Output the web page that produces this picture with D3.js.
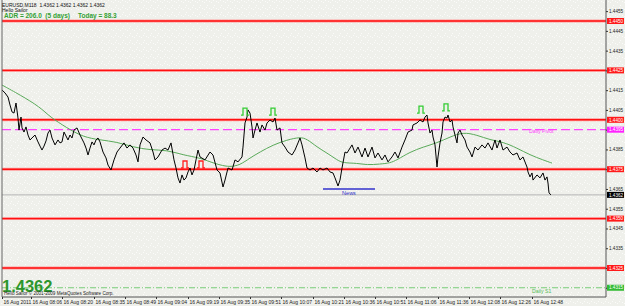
<!DOCTYPE html>
<html>
<head>
<meta charset="utf-8">
<script src="https://cdn.jsdelivr.net/npm/d3@7"></script>
<style>
body { margin: 0; background: #eff0eb; }
svg { display: block; font-family: "Liberation Sans", Arial, sans-serif; }
</style>
</head>
<body>
<div id="main"></div>
<script>
const headerLine = 'EURUSD,M118  1.4362 1.4362 1.4362 1.4362';
const commentLine = 'Hello Sailor';
const adrText = 'ADR = 206.0  (5 days)';
const todayText = 'Today = 88.3';
const lastPrice = 1.4362;
const copyright = 'Hello Sailor \u00a9 2001-2009 MetaQuotes Software Corp.';

// [bar, close]
const closeSeries = [
    [0,1.44151],[3,1.44136],[6,1.44115],[8,1.44075],[10,1.44040],[12,1.44034],[14,1.44085],[16,1.44009],
    [17,1.43948],[19,1.44014],[20,1.43959],[22,1.43938],[24,1.43964],[26,1.43923],[28,1.43898],[30,1.43908],
    [33,1.43923],[36,1.43888],[38,1.43867],[40,1.43847],[42,1.43867],[44,1.43893],[46,1.43933],[48,1.43948],
    [50,1.43908],[53,1.43873],[56,1.43898],[58,1.43883],[60,1.43888],[62,1.43938],[64,1.43918],[66,1.43898],
    [68,1.43923],[70,1.43908],[72,1.43948],[75,1.43959],[78,1.43923],[82,1.43883],[84,1.43857],[86,1.43822],
    [88,1.43857],[90,1.43888],[92,1.43873],[94,1.43898],[96,1.43908],[98,1.43888],[101,1.43837],[104,1.43807],
    [106,1.43771],[109,1.43746],[112,1.43797],[115,1.43837],[118,1.43857],[122,1.43883],[125,1.43857],[128,1.43873],
    [131,1.43857],[134,1.43822],[136,1.43787],[138,1.43873],[141,1.43913],[144,1.43898],[148,1.43883],[151,1.43837],
    [153,1.43797],[156,1.43812],[160,1.43847],[163,1.43857],[166,1.43847],[169,1.43883],[172,1.43797],[174,1.43756],
    [176,1.43706],[178,1.43680],[180,1.43721],[182,1.43695],[184,1.43706],[186,1.43736],[188,1.43756],[190,1.43721],
    [192,1.43746],[194,1.43797],[196,1.43847],[198,1.43812],[203,1.43797],[208,1.43837],[211,1.43822],[215,1.43746],
    [218,1.43731],[221,1.43660],[223,1.43695],[226,1.43756],[230,1.43746],[233,1.43797],[236,1.43787],[240,1.43812],
    [241,1.43862],[243,1.43984],[245,1.44014],[246,1.44050],[248,1.44034],[250,1.43964],[251,1.43908],[253,1.43948],
    [255,1.43984],[258,1.43938],[260,1.43974],[263,1.43948],[265,1.43984],[268,1.43999],[271,1.43989],[273,1.44009],
    [275,1.43948],[278,1.43959],[280,1.43883],[283,1.43862],[286,1.43837],[290,1.43822],[293,1.43847],[296,1.43883],
    [298,1.43908],[300,1.43873],[303,1.43807],[305,1.43756],[308,1.43746],[311,1.43756],[315,1.43736],[318,1.43756],
    [321,1.43746],[325,1.43756],[328,1.43736],[331,1.43731],[333,1.43706],[336,1.43665],[338,1.43695],[340,1.43756],
    [343,1.43837],[345,1.43832],[350,1.43873],[353,1.43832],[356,1.43862],[360,1.43812],[363,1.43857],[366,1.43812],
    [370,1.43862],[373,1.43807],[376,1.43832],[380,1.43797],[383,1.43822],[386,1.43787],[390,1.43812],[393,1.43837],
    [396,1.43807],[400,1.43862],[403,1.43898],[406,1.43938],[410,1.43948],[411,1.43974],[415,1.43984],[418,1.43999],
    [421,1.43989],[423,1.44014],[425,1.44024],[426,1.43984],[428,1.43933],[430,1.43948],[431,1.43913],[433,1.43873],
    [435,1.43761],[436,1.43812],[438,1.43883],[440,1.43933],[441,1.43989],[443,1.44014],[445,1.44009],[446,1.44024],
    [448,1.43989],[450,1.43999],[451,1.43964],[453,1.43923],[455,1.43883],[456,1.43933],[458,1.43948],[460,1.43923],
    [463,1.43898],[465,1.43862],[468,1.43837],[470,1.43812],[473,1.43862],[476,1.43847],[480,1.43873],[483,1.43857],
    [486,1.43883],[490,1.43847],[493,1.43898],[495,1.43857],[498,1.43898],[501,1.43847],[505,1.43862],[508,1.43837],
    [511,1.43822],[515,1.43832],[518,1.43797],[521,1.43812],[525,1.43761],[526,1.43736],[528,1.43711],[530,1.43731],
    [531,1.43695],[535,1.43721],[538,1.43706],[541,1.43731],[543,1.43695],[545,1.43711],[546,1.43680],[547,1.43630],
    [549,1.43620]
];

// moving average [bar, value]
const maSeries = [
    [0,1.44176],[18,1.44126],[38,1.44065],[48,1.44014],[65,1.43959],[81,1.43913],[98,1.43898],[115,1.43888],
    [131,1.43862],[148,1.43847],[165,1.43847],[181,1.43822],[198,1.43807],[208,1.43787],[218,1.43771],[228,1.43761],
    [238,1.43771],[248,1.43807],[258,1.43837],[271,1.43873],[285,1.43898],[298,1.43913],[305,1.43903],[315,1.43862],
    [325,1.43832],[335,1.43797],[341,1.43781],[355,1.43781],[365,1.43771],[378,1.43776],[388,1.43781],[395,1.43797],
    [408,1.43837],[421,1.43862],[435,1.43883],[448,1.43913],[461,1.43938],[475,1.43923],[488,1.43898],[501,1.43888],
    [515,1.43857],[528,1.43822],[541,1.43797],[550,1.43781]
];

const roundLevels = [1.4450, 1.4425, 1.4400, 1.4375, 1.4350, 1.4325];
const dailyPivot = 1.4395;
const dailyS1 = 1.4315;
const newsLine = {from: 321, to: 373, price: 1.4365};

const greenFlags = [[243,1.44024],[271,1.44024],[419,1.44034],[444,1.44045]];
const redFlags = [[183,1.43756],[199,1.43756]];

const priceTicks = [1.4455, 1.4445, 1.4435, 1.4425, 1.4415, 1.4405, 1.4395, 1.4385, 1.4375,
    1.4365, 1.4355, 1.4345, 1.4335, 1.4325, 1.4315];

const timeBars = [0, 29, 60, 92, 123, 154, 186, 217, 248, 279, 311, 342, 373, 404, 436, 467, 498, 530];
const timeLabels = ['16 Aug 2011', '16 Aug 08:06', '16 Aug 08:20', '16 Aug 08:35', '16 Aug 08:49',
    '16 Aug 09:04', '16 Aug 09:19', '16 Aug 09:35', '16 Aug 09:51', '16 Aug 10:07', '16 Aug 10:21',
    '16 Aug 10:36', '16 Aug 10:51', '16 Aug 11:06', '16 Aug 11:36', '16 Aug 12:08', '16 Aug 12:26',
    '16 Aug 12:48'];

const W = 625, H = 306;
const plotLeft = 2, plotRight = 606, plotBottom = 297;

const svg = d3.select('#main').append('svg')
    .attr('width', W)
    .attr('height', H);

const defs = svg.append('defs');
const pat = defs.append('pattern')
    .attr('id', 'dots')
    .attr('width', 7).attr('height', 7)
    .attr('patternUnits', 'userSpaceOnUse');
pat.append('rect').attr('width', 7).attr('height', 7).attr('fill', '#eff0eb');
[[1, 2], [4, 5], [6, 1], [3, 0]].forEach(function (p) {
    pat.append('rect').attr('x', p[0]).attr('y', p[1]).attr('width', 1).attr('height', 1).attr('fill', '#fbfbf9');
});
defs.append('clipPath').attr('id', 'plot')
    .append('rect')
    .attr('x', plotLeft).attr('y', 0)
    .attr('width', plotRight - plotLeft).attr('height', plotBottom);

svg.append('rect').attr('width', W).attr('height', H).attr('fill', 'url(#dots)');

const x = d3.scaleLinear().domain([0, 604]).range([plotLeft, plotRight]);
const y = d3.scaleLinear().domain([1.4325, 1.4450]).range([268, 21]);

const plot = svg.append('g').attr('clip-path', 'url(#plot)');

// current price line
plot.append('line')
    .attr('x1', plotLeft).attr('x2', plotRight)
    .attr('y1', y(lastPrice)).attr('y2', y(lastPrice))
    .style('stroke', '#b4b4b4')
    .style('stroke-width', 1);

// round number levels
plot.selectAll('.lvl-bg')
    .data(roundLevels)
    .enter()
    .append('line')
    .attr('x1', plotLeft).attr('x2', plotRight)
    .attr('y1', d => y(d)).attr('y2', d => y(d))
    .style('stroke', '#ff9a9a')
    .style('stroke-width', 3);
plot.selectAll('.lvl')
    .data(roundLevels)
    .enter()
    .append('line')
    .attr('x1', plotLeft).attr('x2', plotRight)
    .attr('y1', d => y(d)).attr('y2', d => y(d))
    .style('stroke', '#ff1010')
    .style('stroke-width', 1.4);

plot.append('line')
    .attr('x1', plotLeft).attr('x2', plotRight)
    .attr('y1', y(dailyPivot)).attr('y2', y(dailyPivot))
    .style('stroke', '#ff44ff')
    .style('stroke-width', 1.3)
    .style('stroke-dasharray', '9,4');

plot.append('line')
    .attr('x1', plotLeft).attr('x2', plotRight)
    .attr('y1', y(dailyS1)).attr('y2', y(dailyS1))
    .style('stroke', '#77cc77')
    .style('stroke-width', 1)
    .style('stroke-dasharray', '6,2,1,2');

plot.append('line')
    .attr('x1', x(newsLine.from)).attr('x2', x(newsLine.to))
    .attr('y1', y(newsLine.price)).attr('y2', y(newsLine.price))
    .style('stroke', '#3333cc')
    .style('stroke-width', 1.5);
plot.append('text')
    .attr('x', x((newsLine.from + newsLine.to) / 2))
    .attr('y', y(newsLine.price) + 6.5)
    .attr('text-anchor', 'middle')
    .style('font-size', '5.5px')
    .style('fill', '#3333cc')
    .text('News');

plot.append('text')
    .attr('x', 529).attr('y', y(dailyPivot) + 3.8)
    .style('font-size', '5.2px')
    .style('fill', '#ff44ff')
    .text('Daily Pivot');
plot.append('text')
    .attr('x', 532).attr('y', y(dailyS1) + 5)
    .style('font-size', '5.2px')
    .style('fill', '#55bb55')
    .text('Daily S1');

const line = d3.line()
    .x(d => x(d[0]))
    .y(d => y(d[1]));

plot.append('path')
    .datum(maSeries)
    .attr('d', line.curve(d3.curveBasis))
    .style('fill', 'none')
    .style('stroke', '#5aaa5a')
    .style('stroke-width', 1);

plot.append('path')
    .datum(closeSeries)
    .attr('d', d3.line().x(d => x(d[0])).y(d => y(d[1])))
    .style('fill', 'none')
    .style('stroke', '#000')
    .style('stroke-width', 1);

function flagPath(d) {
    const px = x(d[0]), py = y(d[1]);
    return 'M' + (px - 4) + ',' + py + 'H' + (px - 2) + 'V' + (py - 7) + 'H' + (px + 2) + 'V' + py + 'H' + (px + 4);
}
plot.selectAll('.gflag')
    .data(greenFlags)
    .enter()
    .append('path')
    .attr('d', flagPath)
    .style('fill', 'none')
    .style('stroke', '#33cc33')
    .style('stroke-width', 1.3);
plot.selectAll('.rflag')
    .data(redFlags)
    .enter()
    .append('path')
    .attr('d', flagPath)
    .style('fill', 'none')
    .style('stroke', '#ff2020')
    .style('stroke-width', 1.3);

// frame
svg.append('line').attr('x1', plotLeft).attr('x2', plotLeft).attr('y1', 0).attr('y2', plotBottom)
    .style('stroke', '#666');
svg.append('line').attr('x1', plotRight).attr('x2', plotRight).attr('y1', 0).attr('y2', plotBottom)
    .style('stroke', '#555');
svg.append('line').attr('x1', plotLeft).attr('x2', plotRight).attr('y1', plotBottom).attr('y2', plotBottom)
    .style('stroke', '#555');

// price axis
const yAxis = d3.axisRight(y)
    .tickValues(priceTicks)
    .tickSize(2)
    .tickPadding(1)
    .tickFormat(d3.format('.4f'));
const ya = svg.append('g')
    .attr('transform', 'translate(' + plotRight + ',0)')
    .call(yAxis);
ya.select('.domain').remove();
ya.selectAll('line').style('stroke', '#333');
ya.selectAll('text').style('font-size', '4.6px').style('fill', '#222').style('font-family', '"Liberation Sans", Arial, sans-serif');

// time axis
const xAxis = d3.axisBottom(x)
    .tickValues(timeBars)
    .tickSize(2)
    .tickFormat((d, i) => timeLabels[i]);
const xa = svg.append('g')
    .attr('transform', 'translate(0,' + plotBottom + ')')
    .call(xAxis);
xa.select('.domain').remove();
xa.selectAll('line').style('stroke', '#333');
xa.selectAll('text')
    .attr('text-anchor', 'start')
    .attr('x', 1)
    .attr('y', 3)
    .style('font-size', '5px')
    .style('fill', '#222')
    .style('font-family', '"Liberation Sans", Arial, sans-serif');

// price tags on the axis
const tags = roundLevels.map(v => ({v: v, bg: '#ff1a1a'}))
    .concat([{v: dailyPivot, bg: '#ff22ff'}, {v: dailyS1, bg: '#33bb33'}, {v: lastPrice, bg: '#000'}]);
const tag = svg.selectAll('.tag')
    .data(tags)
    .enter()
    .append('g')
    .attr('transform', d => 'translate(' + (plotRight + 1) + ',' + y(d.v) + ')');
tag.append('rect')
    .attr('x', 0).attr('y', -3)
    .attr('width', 17).attr('height', 6)
    .attr('fill', d => d.bg);
tag.append('text')
    .attr('x', 2).attr('y', 1.7)
    .style('font-size', '4.6px')
    .style('fill', '#fff')
    .text(d => d3.format('.4f')(d.v));

// header texts
svg.append('text').attr('x', 2).attr('y', 6.5)
    .style('font-size', '5px').style('fill', '#111')
    .attr('xml:space', 'preserve')
    .text(headerLine);
svg.append('text').attr('x', 2).attr('y', 11.5)
    .style('font-size', '5px').style('fill', '#111')
    .text(commentLine);
svg.append('text').attr('x', 4).attr('y', 17.5)
    .style('font-size', '6.5px').style('font-weight', 'bold').style('fill', '#34a034')
    .attr('xml:space', 'preserve')
    .text(adrText);
svg.append('text').attr('x', 78).attr('y', 17.5)
    .style('font-size', '6.5px').style('font-weight', 'bold').style('fill', '#34a034')
    .text(todayText);

svg.append('text').attr('x', 2).attr('y', 292)
    .style('font-size', '16.5px').style('font-weight', 'bold').style('fill', '#2c962c')
    .text(d3.format('.4f')(lastPrice));
svg.append('text').attr('x', 4).attr('y', 295)
    .style('font-size', '4.6px').style('fill', '#222')
    .text(copyright);
</script>
</body>
</html>
